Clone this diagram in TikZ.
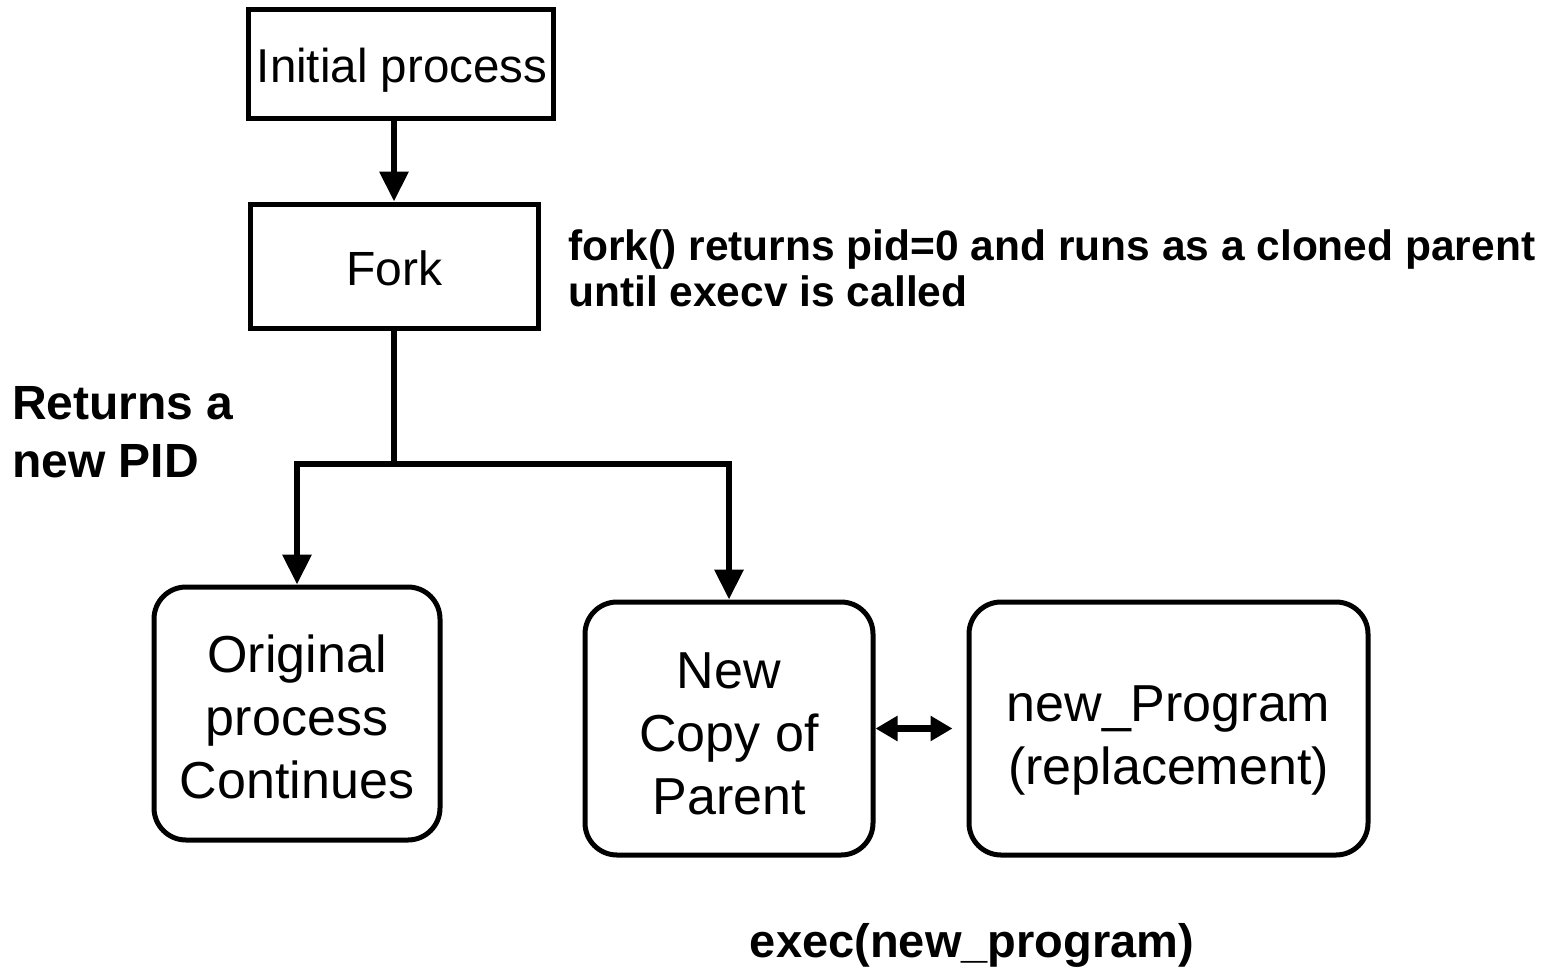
\documentclass[tikz,border=0pt]{standalone}
\usepackage{fontspec}
\setmainfont{Liberation Sans}
\usetikzlibrary{arrows.meta}
\begin{document}
\begin{tikzpicture}[x=1pt,y=-1pt,
  sqbox/.style={draw,line width=5pt,rectangle,inner sep=0pt},
  rbox/.style={draw,line width=5pt,rectangle,rounded corners=32pt,inner sep=0pt},
  btext/.style={inner sep=0pt,align=center,font=\fontsize{52}{63}\selectfont},
  stext/.style={inner sep=0pt,align=center,font=\fontsize{48}{56}\selectfont},
  conn/.style={line width=6.5pt,-{Triangle[length=30pt,width=28pt]}},
  link/.style={line width=6.5pt},
  dbl/.style={line width=6.5pt,{Triangle[length=22pt,width=24pt]}-{Triangle[length=22pt,width=24pt]}},
  note/.style={font=\bfseries\fontsize{42.5}{46}\selectfont,align=left,inner sep=0pt}
]
\useasboundingbox (0,0) rectangle (1546,974);
\node[sqbox,minimum width=305pt,minimum height=108pt] (init) at (401,64) {};
\node[stext,font=\fontsize{47.5}{56}\selectfont] (initT) at ([xshift=1pt,yshift=-6pt]init.center) {Initial process};
\node[sqbox,minimum width=288pt,minimum height=124pt] (fork) at (394,266) {};
\node[stext] (forkT) at ([yshift=-2pt]fork.center) {Fork};
\node[rbox,minimum width=286pt,minimum height=253pt] (orig) at (297,713.5) {};
\node[btext] (origT) at ([yshift=-3pt]orig.center) {Original\\process\\Continues};
\node[rbox,minimum width=288pt,minimum height=253pt] (copy) at (729,728.5) {};
\node[btext] (copyT) at ([yshift=-5.5pt]copy.center) {New\\Copy of\\Parent};
\node[rbox,minimum width=399pt,minimum height=253pt] (newp) at (1168.5,728.5) {};
\node[btext] (newpT) at ([yshift=-12pt]newp.center) {new\_Program\\(replacement)};
\coordinate (J) at (394,464);
\draw[conn] (init.south -| fork.north) -- (fork.north);
\draw[link] (fork.south) -- (J);
\draw[conn] (J) -| (orig.north);
\draw[conn] (J) -| (copy.north);
\draw[dbl] (copy.east) -- ([xshift=-14pt]newp.west);
\node[note,anchor=west] (forknote) at (568,268) {fork() returns pid=0 and runs as a cloned parent\\until execv is called};
\node[note,anchor=west,font=\bfseries\fontsize{48}{58}\selectfont] (pidnote) at (12,432) {Returns a\\new PID};
\node[note,font=\bfseries\fontsize{47}{56}\selectfont] (execnote) at (972,945) {exec(new\_program)};
\end{tikzpicture}
\end{document}
